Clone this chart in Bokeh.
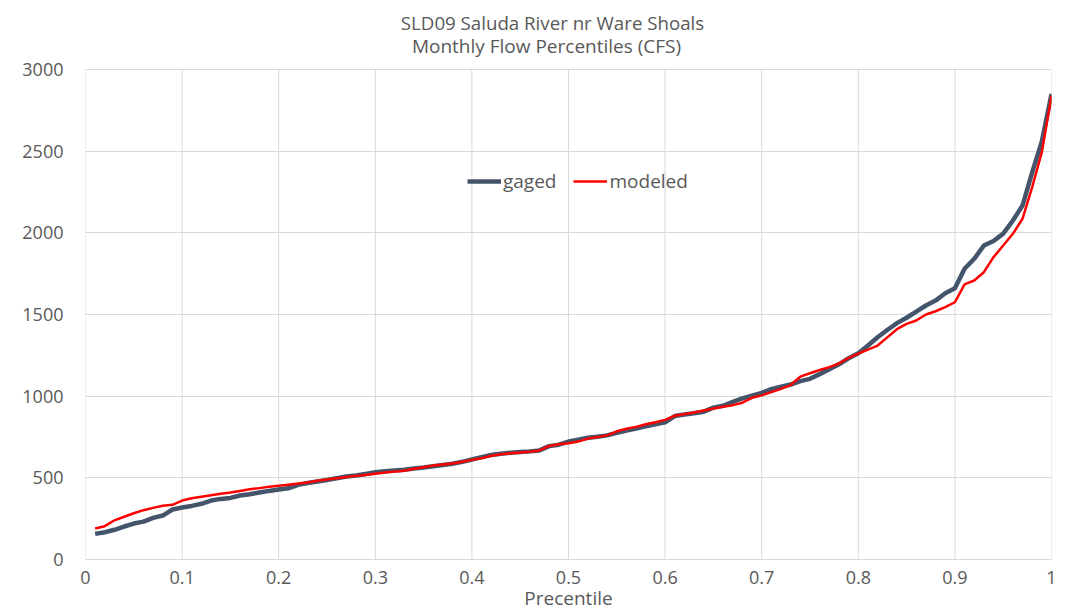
from bokeh.plotting import figure
from bokeh.models import Label, FixedTicker, Legend, LegendItem
from bokeh.embed import file_html
from bokeh.resources import INLINE

percentile = [round(0.01 * i, 2) for i in range(1, 101)]

gaged = [157, 167, 182, 202, 220, 232, 255, 269, 306, 318,
         328, 341, 361, 371, 377, 392, 400, 410, 420, 428,
         436, 457, 468, 477, 487, 497, 508, 514, 524, 534,
         540, 545, 550, 557, 563, 571, 578, 586, 598, 612,
         627, 640, 648, 654, 658, 662, 668, 694, 703, 722,
         733, 745, 752, 760, 775, 790, 802, 815, 828, 840,
         878, 888, 896, 905, 930, 941, 965, 986, 1003, 1020,
         1043, 1058, 1071, 1092, 1106, 1135, 1165, 1195, 1232, 1263,
         1310, 1361, 1405, 1447, 1480, 1518, 1555, 1585, 1630, 1660,
         1780, 1841, 1922, 1950, 1995, 2075, 2167, 2370, 2560, 2850]

modeled = [190, 204, 240, 262, 283, 302, 316, 329, 335, 361,
           375, 384, 394, 402, 410, 420, 430, 437, 445, 452,
           458, 465, 472, 482, 490, 497, 505, 512, 518, 525,
           532, 538, 543, 555, 565, 575, 582, 588, 598, 610,
           620, 635, 645, 650, 655, 660, 668, 695, 705, 712,
           722, 740, 750, 760, 785, 800, 812, 828, 840, 855,
           880, 890, 900, 912, 925, 935, 945, 960, 990, 1005,
           1025, 1045, 1068, 1120, 1140, 1160, 1178, 1200, 1235, 1260,
           1285, 1310, 1360, 1410, 1443, 1463, 1500, 1520, 1545, 1575,
           1684, 1708, 1759, 1851, 1922, 1994, 2086, 2280, 2494, 2840]

x_ticks = [0, 0.1, 0.2, 0.3, 0.4, 0.5, 0.6, 0.7, 0.8, 0.9, 1]
x_tick_labels = ["0", "0.1", "0.2", "0.3", "0.4", "0.5", "0.6", "0.7", "0.8", "0.9", "1"]
y_ticks = [0, 500, 1000, 1500, 2000, 2500, 3000]

title_line1 = "SLD09 Saluda River nr Ware Shoals"
title_line2 = "Monthly Flow Percentiles (CFS)"

FONT = "Open Sans"
TXT = "#595959"
GRID = "#d9d9d9"
W, H = 1065, 613
BOTTOM = 54          # space for the x-axis texts
PLOT_H = 490         # pixel height of the 0..3000 value span
FRAME_H = H - BOTTOM
y_top = max(y_ticks) * FRAME_H / PLOT_H   # frame reaches the top; titles sit above 3000

p = figure(width=W, height=H, output_backend="svg", toolbar_location=None,
           x_range=(0, 1), y_range=(0, y_top),
           min_border_left=85, min_border_right=14, min_border_top=0, min_border_bottom=BOTTOM)
p.title = None
p.outline_line_color = None
p.background_fill_color = "white"
p.border_fill_color = "white"

# vertical gridlines limited to the 0..3000 value span
p.segment(x0=x_ticks, y0=[min(y_ticks)] * len(x_ticks), x1=x_ticks, y1=[max(y_ticks)] * len(x_ticks),
          line_color=GRID, line_width=1)

r1 = p.line(percentile, gaged, line_color="#44546A", line_width=4.5, line_join="round")
r2 = p.line(percentile, modeled, line_color="#FF0000", line_width=2.5, line_join="round")

# two centred title lines (screen units from the frame's lower-left corner)
p.add_layout(Label(x=467, y=FRAME_H - 22, x_units="screen", y_units="screen", text=title_line1,
                   text_align="center", text_baseline="middle", text_font=FONT,
                   text_font_size="18.7px", text_color=TXT))
p.add_layout(Label(x=461, y=FRAME_H - 45, x_units="screen", y_units="screen", text=title_line2,
                   text_align="center", text_baseline="middle", text_font=FONT,
                   text_font_size="19px", text_color=TXT))

p.xaxis.ticker = FixedTicker(ticks=x_ticks)
p.xaxis.major_label_overrides = {t_: l for t_, l in zip(x_ticks, x_tick_labels)}
p.yaxis.ticker = FixedTicker(ticks=y_ticks)
for ax in (p.xaxis, p.yaxis):
    ax.major_tick_line_color = None
    ax.minor_tick_line_color = None
    ax.major_tick_out = 0
    ax.major_tick_in = 0
    ax.minor_tick_out = 0
    ax.minor_tick_in = 0
    ax.axis_line_color = GRID
    ax.major_label_text_font = FONT
    ax.major_label_text_font_size = "18px"
    ax.major_label_text_color = TXT
p.yaxis.axis_line_color = None
p.xaxis.major_label_standoff = 11
p.yaxis.major_label_standoff = 22
p.xaxis.axis_label = "Precentile"
p.xaxis.axis_label_text_font = FONT
p.xaxis.axis_label_text_font_size = "19px"
p.xaxis.axis_label_text_font_style = "normal"
p.xaxis.axis_label_text_color = TXT
p.xaxis.axis_label_standoff = -2

p.xgrid.grid_line_color = None
p.ygrid.grid_line_color = GRID
p.ygrid.ticker = FixedTicker(ticks=y_ticks)

legend = Legend(items=[LegendItem(label="gaged", renderers=[r1]),
                       LegendItem(label="modeled", renderers=[r2])],
                orientation="horizontal", location=(382, 365),
                padding=0, margin=0, spacing=17, glyph_width=34, label_standoff=2,
                border_line_color=None, background_fill_alpha=0,
                label_text_font=FONT, label_text_font_size="19px", label_text_color=TXT)
p.add_layout(legend)

open("out.html", "w").write(file_html(p, INLINE))
